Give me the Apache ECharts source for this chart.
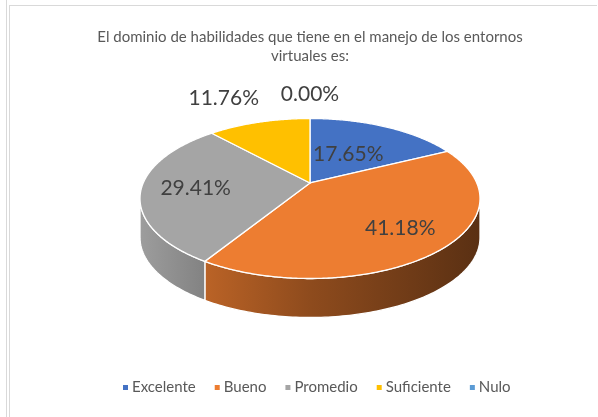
<!DOCTYPE html>
<html><head><meta charset="utf-8">
<script src="https://cdn.jsdelivr.net/npm/echarts@6/dist/echarts.min.js"></script>
<style>html,body{margin:0;padding:0;background:#fff}#c{width:598px;height:417px}</style>
</head><body><div id="c"></div>
<script>
// ---- data ----
const categories = ['Excelente', 'Bueno', 'Promedio', 'Suficiente', 'Nulo'];
const values = [3, 7, 5, 2, 0];
const colors = ['#4472C4', '#ED7D31', '#A5A5A5', '#FFC000', '#5B9BD5'];
const titleText = 'El dominio de habilidades que tiene en el manejo de los entornos\nvirtuales es:';

// ---- layout / style ----
const FONT = 'Lato';
const CX = 310, CY = 198.5, RA = 170, RB = 80, T = -0.194, DEPTH = 39;
const labelRadius = [0.47, 0.72, 0.68, 0.7, 0.7];
const OUTSIDE_PCT = 0.15;

const total = values.reduce((s, v) => s + v, 0);
const starts = [];
let acc = 0;
values.forEach(v => { starts.push(acc); acc += v; });

function proj(phi, r) {
  const rad = phi * Math.PI / 180;
  const u = Math.sin(rad) * r, v = -Math.cos(rad) * r;
  const d = 1 + T * v;
  const up = u * Math.sqrt(1 - T * T) / d, vp = (v + T) / d;
  return [CX + up * RA, CY + vp * RB];
}
function arcPts(a1, a2, step) {
  const pts = [];
  const n = Math.max(1, Math.ceil((a2 - a1) / step));
  for (let k = 0; k <= n; k++) pts.push(proj(a1 + (a2 - a1) * k / n, 1));
  return pts;
}
function shade(hex, f) {
  const n = parseInt(hex.slice(1), 16);
  const r = Math.round(((n >> 16) & 255) * f), g = Math.round(((n >> 8) & 255) * f), b = Math.round((n & 255) * f);
  return 'rgb(' + r + ',' + g + ',' + b + ')';
}
const shadeStops = [[0, 0.95], [0.2, 0.78], [0.5, 0.6], [1, 0.38]];
const frontStart = Math.acos(T) * 180 / Math.PI;
const frontEnd = 360 - frontStart;

function makeRender(i) {
  return function (params, api) {
    const v = values[i];
    const a1 = starts[i] / total * 360, a2 = (starts[i] + v) / total * 360;
    const children = [];
    if (v > 0) {
      const s1 = Math.max(a1, frontStart), s2 = Math.min(a2, frontEnd);
      if (s2 > s1) {
        const top = arcPts(s1, s2, 1);
        const bot = top.slice().reverse().map(p => [p[0], p[1] + DEPTH]);
        children.push({
          type: 'polygon', z2: 1,
          shape: { points: top.concat(bot) },
          style: {
            fill: new echarts.graphic.LinearGradient(CX - RA, 0, CX + RA, 0,
              shadeStops.map(s => ({ offset: s[0], color: shade(colors[i], s[1]) })), true),
            stroke: '#fff', lineWidth: 1.3
          }
        });
      }
      const c = proj(0, 0);
      children.push({
        type: 'polygon', z2: 2,
        shape: { points: [c].concat(arcPts(a1, a2, 0.5)) },
        style: { fill: colors[i], stroke: '#fff', lineWidth: 1.3 }
      });
    }
    const pct = v / total;
    const mid = (a1 + a2) / 2;
    let pos, align = 'center';
    if (pct >= OUTSIDE_PCT) {
      pos = proj(mid, labelRadius[i]);
    } else {
      const rim = proj(mid, 1);
      const s = Math.sin(mid * Math.PI / 180);
      align = s < -0.05 ? 'right' : (s > 0.05 ? 'left' : 'center');
      pos = [rim[0], rim[1] - 24];
    }
    children.push({
      type: 'text', z2: 10,
      style: {
        x: pos[0], y: pos[1], text: (pct * 100).toFixed(2) + '%',
        align: align, verticalAlign: 'middle',
        fontFamily: FONT, fontSize: 21, fill: '#404040'
      }
    });
    return { type: 'group', children: children };
  };
}

const chart = echarts.init(document.getElementById('c'), null, { renderer: 'canvas' });
chart.setOption({
  animation: false,
  color: colors,
  title: {
    text: titleText, left: 310, top: 28, textAlign: 'center', padding: 0,
    textStyle: { fontFamily: FONT, fontSize: 15, fontWeight: 'normal', color: '#595959', lineHeight: 19 }
  },
  legend: {
    data: categories, top: 380, left: 123, icon: 'rect', padding: 0,
    itemWidth: 5, itemHeight: 5, itemGap: 19,
    textStyle: { fontFamily: FONT, fontSize: 15, color: '#595959', padding: [0, 0, 0, -1] }
  },
  graphic: [
    { type: 'line', shape: { x1: 6.5, y1: 0, x2: 6.5, y2: 417 }, style: { stroke: '#d9d9d9', lineWidth: 1 }, silent: true },
    { type: 'line', shape: { x1: 9.5, y1: 5, x2: 9.5, y2: 417 }, style: { stroke: '#d9d9d9', lineWidth: 1 }, silent: true },
    { type: 'line', shape: { x1: 9, y1: 5.5, x2: 597, y2: 5.5 }, style: { stroke: '#d9d9d9', lineWidth: 1 }, silent: true }
  ],
  series: categories.map((name, i) => ({
    type: 'custom', name: name, coordinateSystem: 'none',
    itemStyle: { color: colors[i] },
    data: [values[i]],
    renderItem: makeRender(i)
  }))
});
</script></body></html>
